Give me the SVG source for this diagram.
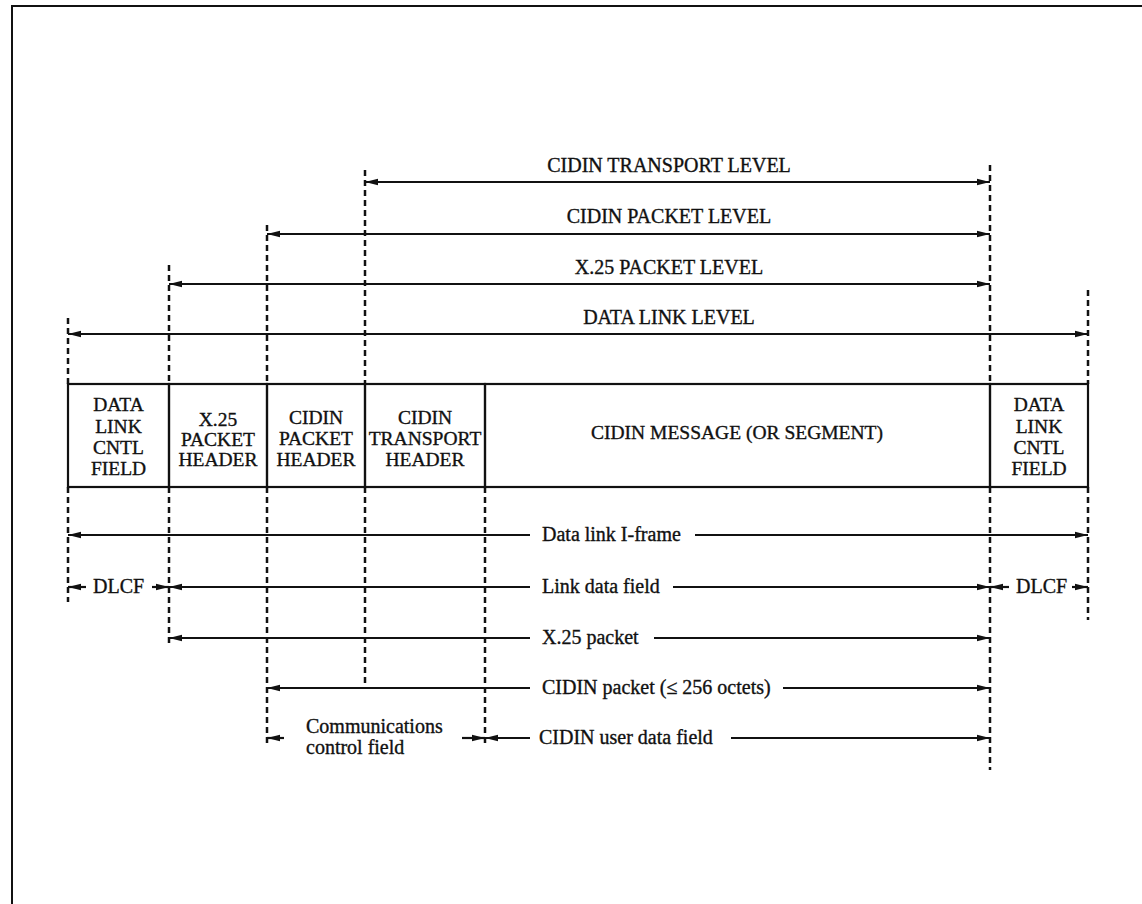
<svg xmlns="http://www.w3.org/2000/svg" width="1142" height="904" viewBox="0 0 1142 904">
<style>
text{font-family:"Liberation Serif","Times New Roman",serif;fill:#111;stroke:#111;stroke-width:0.35}
.lv{font-size:20px;text-anchor:middle}
.bx{font-size:19.5px;text-anchor:middle}
.lb{font-size:20px}
.cell{fill:none;stroke:#111;stroke-width:2.2}
.dash{stroke:#111;stroke-width:2.5;stroke-dasharray:6 4;fill:none}
.arr{stroke:#111;stroke-width:2.2;fill:none}
.s{marker-start:url(#ah)}
.e{marker-end:url(#ah)}
.frame{stroke:#111;stroke-width:2;fill:none}
</style>
<defs>
<marker id="ah" viewBox="0 0 13 8" markerWidth="13" markerHeight="8" refX="13" refY="4" markerUnits="userSpaceOnUse" orient="auto-start-reverse">
<path d="M0,0.8 L13,4 L0,7.2 z" fill="#111"/>
</marker>
</defs>
<rect width="1142" height="904" fill="#fff"/>
<g id="frame">
<line class="frame" x1="12" y1="6" x2="1142" y2="6"/>
<line class="frame" x1="12" y1="5" x2="12" y2="904"/>
</g>
<g id="nodes">
<g id="cell-dlcf-left">
<rect class="cell" x="68" y="384" width="101" height="103"/>
<text class="bx" x="118.5" y="411">DATA</text>
<text class="bx" x="118.5" y="433">LINK</text>
<text class="bx" x="118.5" y="454">CNTL</text>
<text class="bx" x="118.5" y="475">FIELD</text>
</g>
<g id="cell-x25-header">
<rect class="cell" x="169" y="384" width="98" height="103"/>
<text class="bx" x="218" y="426">X.25</text>
<text class="bx" x="218" y="446">PACKET</text>
<text class="bx" x="218" y="466">HEADER</text>
</g>
<g id="cell-cidin-packet-header">
<rect class="cell" x="267" y="384" width="98" height="103"/>
<text class="bx" x="316" y="424">CIDIN</text>
<text class="bx" x="316" y="445">PACKET</text>
<text class="bx" x="316" y="466">HEADER</text>
</g>
<g id="cell-cidin-transport-header">
<rect class="cell" x="365" y="384" width="120" height="103"/>
<text class="bx" x="425" y="424">CIDIN</text>
<text class="bx" x="425" y="445">TRANSPORT</text>
<text class="bx" x="425" y="466">HEADER</text>
</g>
<g id="cell-cidin-message">
<rect class="cell" x="485" y="384" width="505" height="103"/>
<text class="bx" x="737" y="439">CIDIN MESSAGE (OR SEGMENT)</text>
</g>
<g id="cell-dlcf-right">
<rect class="cell" x="990" y="384" width="98" height="103"/>
<text class="bx" x="1039" y="411">DATA</text>
<text class="bx" x="1039" y="433">LINK</text>
<text class="bx" x="1039" y="454">CNTL</text>
<text class="bx" x="1039" y="475">FIELD</text>
</g>
</g>
<g id="connectors">
<line class="dash" x1="68" y1="318" x2="68" y2="384"/>
<line class="dash" x1="68" y1="487" x2="68" y2="602"/>
<line class="dash" x1="169" y1="265" x2="169" y2="384"/>
<line class="dash" x1="169" y1="487" x2="169" y2="644"/>
<line class="dash" x1="267" y1="225" x2="267" y2="384"/>
<line class="dash" x1="267" y1="487" x2="267" y2="747"/>
<line class="dash" x1="365" y1="170" x2="365" y2="384"/>
<line class="dash" x1="365" y1="487" x2="365" y2="688"/>
<line class="dash" x1="485" y1="487" x2="485" y2="743"/>
<line class="dash" x1="990" y1="165" x2="990" y2="384"/>
<line class="dash" x1="990" y1="487" x2="990" y2="770"/>
<line class="dash" x1="1088" y1="290" x2="1088" y2="384"/>
<line class="dash" x1="1088" y1="487" x2="1088" y2="620"/>
<line class="arr s e" x1="365" y1="182" x2="990" y2="182"/>
<text class="lv" x="669" y="172">CIDIN TRANSPORT LEVEL</text>
<line class="arr s e" x1="267" y1="234" x2="990" y2="234"/>
<text class="lv" x="669" y="223">CIDIN PACKET LEVEL</text>
<line class="arr s e" x1="169" y1="284" x2="990" y2="284"/>
<text class="lv" x="669" y="274">X.25 PACKET LEVEL</text>
<line class="arr s e" x1="68" y1="334" x2="1088" y2="334"/>
<text class="lv" x="669" y="324">DATA LINK LEVEL</text>
<line class="arr s" x1="68" y1="535" x2="530" y2="535"/>
<text class="lb" x="542" y="541">Data link I-frame</text>
<line class="arr e" x1="695" y1="535" x2="1088" y2="535"/>
<line class="arr s" x1="68" y1="587" x2="86" y2="587"/>
<text class="lb" x="93" y="593">DLCF</text>
<line class="arr e" x1="152" y1="587" x2="169" y2="587"/>
<line class="arr s" x1="169" y1="587" x2="530" y2="587"/>
<text class="lb" x="542" y="593">Link data field</text>
<line class="arr e" x1="673" y1="587" x2="990" y2="587"/>
<line class="arr s" x1="990" y1="587" x2="1009" y2="587"/>
<text class="lb" x="1016" y="593">DLCF</text>
<line class="arr e" x1="1072" y1="587" x2="1088" y2="587"/>
<line class="arr s" x1="169" y1="638" x2="530" y2="638"/>
<text class="lb" x="542" y="644">X.25 packet</text>
<line class="arr e" x1="654" y1="638" x2="990" y2="638"/>
<line class="arr s" x1="267" y1="688" x2="530" y2="688"/>
<text class="lb" x="542" y="694">CIDIN packet (≤ 256 octets)</text>
<line class="arr e" x1="783" y1="688" x2="990" y2="688"/>
<line class="arr s" x1="267" y1="738" x2="284" y2="738"/>
<text class="lb" x="306" y="733">Communications</text>
<text class="lb" x="306" y="754">control field</text>
<line class="arr e" x1="462" y1="738" x2="485" y2="738"/>
<line class="arr s" x1="485" y1="738" x2="530" y2="738"/>
<text class="lb" x="539" y="744">CIDIN user data field</text>
<line class="arr e" x1="731" y1="738" x2="990" y2="738"/>
</g>
</svg>
